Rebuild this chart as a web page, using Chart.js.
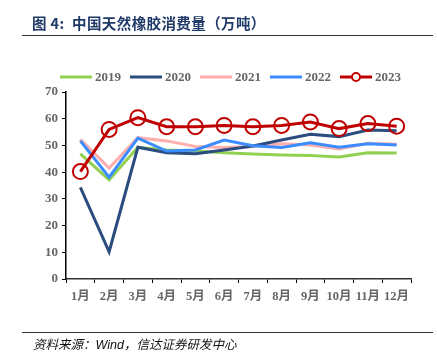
<!DOCTYPE html>
<html><head><meta charset="utf-8">
<script src="https://cdn.jsdelivr.net/npm/chart.js@4/dist/chart.umd.min.js"></script>
<style>
html,body{margin:0;padding:0;background:#fff;width:437px;height:353px;overflow:hidden;}
#wrap{position:absolute;left:0;top:0;width:437px;height:353px;}
#title{position:absolute;left:32px;top:12px;font-family:"Noto Sans CJK SC";font-weight:bold;font-size:14.5px;color:#1f3a68;letter-spacing:0.4px;white-space:nowrap;}
#tline{position:absolute;left:22px;top:35px;width:411px;height:0;border-top:1.5px solid #333;}
#bline{position:absolute;left:22px;top:332px;width:411px;height:0;border-top:1.2px solid #333;}
#src{position:absolute;left:33px;top:334px;font-family:"Noto Sans CJK SC","Liberation Sans";font-style:italic;font-size:12.5px;color:#111;white-space:nowrap;}
</style></head>
<body>
<div id="wrap"><canvas id="c" width="437" height="353"></canvas></div>
<div id="title">图 4:&nbsp; 中国天然橡胶消费量（万吨）</div>
<div id="tline"></div>
<div id="bline"></div>
<div id="src">资料来源：<span style="font-family:'Liberation Sans'">Wind</span>，信达证券研发中心</div>
<script>
const categories = ["1月","2月","3月","4月","5月","6月","7月","8月","9月","10月","11月","12月"];
const seriesNames = ["2019","2020","2021","2022","2023"];
const v2019 = [46.8,37.1,49.3,48.3,47.9,47.3,46.8,46.4,46.2,45.7,47.3,47.2];
const v2020 = [34.3,10.2,49.3,47.3,46.9,48.3,49.8,52.0,54.2,53.3,55.8,55.5];
const v2021 = [52.3,41.5,52.9,51.7,49.6,49.2,49.6,50.6,50.2,48.7,50.8,50.4];
const v2022 = [51.7,38.1,52.7,47.9,48.3,52.0,49.9,49.2,51.0,49.3,50.6,50.2];
const v2023 = [40.2,56.0,60.4,57.0,57.0,57.5,57.0,57.5,58.8,56.3,58.2,57.2];
const yTicks = [0,10,20,30,40,50,60,70];

const colors = ["#92D050","#2B4C7E","#FFAEAE","#3A8CFF","#C00000"];
const values = [v2019,v2020,v2021,v2022,v2023];
const orders = [4,2,3,1,0];

const datasets = seriesNames.map((n,i)=>({
  label:n, data:values[i], borderColor:colors[i], backgroundColor: i===4?"#fff":colors[i],
  borderWidth:3, pointRadius: i===4?7.5:0, pointHoverRadius:i===4?7.5:0,
  pointBorderWidth:2, pointBackgroundColor:"rgba(255,255,255,0)", pointBorderColor:colors[i],
  tension:0, order:orders[i], fill:false
}));

const legendPlugin = {
  id:'customLegend',
  afterDraw(chart){
    const ctx = chart.ctx;
    ctx.save();
    ctx.font = "bold 13px 'Liberation Serif'";
    ctx.textBaseline = "middle";
    let x = 60; const y = 77;
    chart.data.datasets.forEach((ds,i)=>{
      ctx.strokeStyle = ds.borderColor; ctx.lineWidth = 3;
      ctx.beginPath(); ctx.moveTo(x,y); ctx.lineTo(x+32,y); ctx.stroke();
      if (ds.pointRadius>0){
        ctx.lineWidth = 2; ctx.fillStyle="#fff";
        ctx.beginPath(); ctx.arc(x+16,y,4,0,Math.PI*2); ctx.fill(); ctx.stroke();
      }
      ctx.fillStyle = "#666";
      ctx.fillText(ds.label, x+35, y+1);
      x += 35 + ctx.measureText(ds.label).width + 9;
    });
    ctx.restore();
  }
};

new Chart(document.getElementById('c'), {
  type:'line',
  data:{labels:categories, datasets},
  options:{
    responsive:false, animation:false,
    layout:{padding:{top:92,left:0,right:26,bottom:44}},
    plugins:{legend:{display:false}, tooltip:{enabled:false}},
    scales:{
      x:{
        offset:true,
        grid:{display:true, drawOnChartArea:false, drawTicks:true, tickLength:4, color:"#000", offset:true},
        border:{display:true,color:"#333",width:1.5},
        ticks:{color:"#666", font:{family:"'Liberation Serif','Noto Sans CJK SC'",size:12.5,weight:"bold"}, padding:6, maxRotation:0, autoSkip:false},
        afterFit(s){ s.height = 30; }
      },
      y:{
        min:0,max:70,
        afterBuildTicks(s){ s.ticks = yTicks.map(v=>({value:v})); },
        grid:{display:true, drawOnChartArea:false, drawTicks:true, tickLength:4, color:"#000"},
        border:{display:true,color:"#000",width:1.5},
        ticks:{color:"#666", font:{family:"'Liberation Serif'",size:13,weight:"bold"}, padding:4},
        afterFit(s){ s.width = 66; }
      }
    }
  },
  plugins:[legendPlugin]
});
</script>
</body></html>
